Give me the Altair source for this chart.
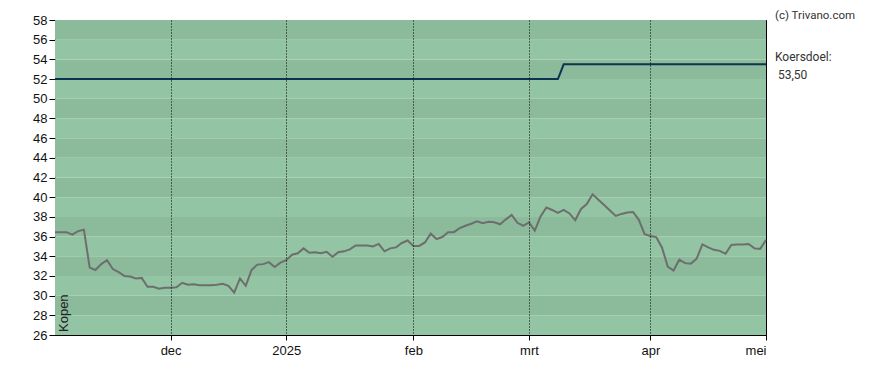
import altair as alt
import pandas as pd

# Closing prices, one per trading day (index 0 = first day shown)
prices = [36.45, 36.45, 36.45, 36.2, 36.55, 36.7, 32.85, 32.6, 33.2, 33.6, 32.7, 32.4, 32.0, 31.95, 31.75, 31.8, 30.9, 30.9, 30.7, 30.8, 30.8,
          30.85, 31.3, 31.1, 31.15, 31.05, 31.05, 31.05, 31.1, 31.2, 31.0, 30.3, 31.75, 31.0, 32.6, 33.15, 33.2, 33.4, 32.9, 33.35, 33.6,
          34.15, 34.3, 34.8, 34.35, 34.4, 34.3, 34.45, 33.95, 34.4, 34.5, 34.7, 35.1, 35.1, 35.1, 35.0, 35.25, 34.5, 34.8, 34.9,
          35.35, 35.6, 35.05, 35.05, 35.4, 36.3, 35.75, 35.95, 36.45, 36.45, 36.85, 37.1, 37.3, 37.55, 37.35, 37.5, 37.45, 37.25, 37.75, 38.2, 37.4, 37.1, 37.45,
          36.6, 38.05, 38.95, 38.7, 38.4, 38.7, 38.35, 37.65, 38.8, 39.3, 40.3, 39.75, 39.2, 38.65, 38.1, 38.3, 38.45, 38.5, 37.7, 36.25, 36.05,
          35.95, 34.9, 32.95, 32.55, 33.65, 33.3, 33.25, 33.75, 35.2, 34.9, 34.65, 34.55, 34.25, 35.15, 35.2, 35.2, 35.25, 34.8, 34.75, 35.65]

# Price target (koersdoel) step line
target_idx = [0, 87, 88, 123]
target_val = [52.0, 52.0, 53.5, 53.5]

# X axis ticks (trading-day index) and labels
tick_idx = [20, 40, 62, 82, 103, 123]
tick_labels = ["dec", "2025", "feb", "mrt", "apr", "mei"]

# Y axis
y_ticks = list(range(26, 59, 2))

# Background bands
band_lo = list(range(26, 58, 2))
band_shade = ["light", "dark"] * 8

texts_right = ["(c) Trivano.com", "Koersdoel:", "53,50"]
signal_text = "Kopen"

W, H = 711, 315

price_df = pd.DataFrame({"i": list(range(len(prices))), "v": prices})
target_df = pd.DataFrame({"i": target_idx, "v": target_val})
band_df = pd.DataFrame({"lo": band_lo, "hi": [b + 2 for b in band_lo], "shade": band_shade})
one_df = pd.DataFrame({"k": [0]})

label_expr = " : ".join(f"datum.value == {i} ? '{l}'" for i, l in zip(tick_idx, tick_labels)) + " : ''"

xscale = alt.Scale(domain=[0, 123], nice=False, zero=False)
yscale = alt.Scale(domain=[26, 58], nice=False, zero=False)
xaxis = alt.Axis(values=tick_idx, labelExpr=label_expr, title=None, grid=True,
                 gridColor="black", gridDash=[1, 2], gridWidth=1, gridOpacity=1,
                 tickSize=5, labelPadding=4, zindex=1, labelFontSize=13)
yaxis = alt.Axis(values=y_ticks, title=None, grid=False, tickSize=6, labelPadding=2,
                 labelFontSize=13)

bands = alt.Chart(band_df).mark_rect().encode(
    y=alt.Y("lo:Q", scale=yscale, axis=yaxis),
    y2="hi:Q",
    x=alt.value(0),
    x2=alt.value("width"),
    color=alt.Color("shade:N", scale=alt.Scale(domain=["dark", "light"], range=["#8bbb9a", "#93c4a3"]), legend=None),
)

target_line = alt.Chart(target_df).mark_line(color="#0d3352", strokeWidth=2).encode(
    x=alt.X("i:Q", scale=xscale, axis=xaxis),
    y=alt.Y("v:Q", scale=yscale, axis=yaxis),
)

price_line = alt.Chart(price_df).mark_line(color="#6e6e6e", strokeWidth=2).encode(
    x=alt.X("i:Q", scale=xscale, axis=xaxis),
    y=alt.Y("v:Q", scale=yscale, axis=yaxis),
)

copyright_t = alt.Chart(one_df).mark_text(text=texts_right[0], align="left", baseline="top",
                                          font="Roboto", fontSize=11.5, color="#333333").encode(
    x=alt.value(720), y=alt.value(-10))
koers_t = alt.Chart(one_df).mark_text(text=texts_right[1], align="left", baseline="middle",
                                      font="Roboto", fontSize=12, color="#333333").encode(
    x=alt.value(720), y=alt.value(37))
val_t = alt.Chart(one_df).mark_text(text=texts_right[2], align="left", baseline="middle",
                                    font="Roboto", fontSize=12, color="#333333").encode(
    x=alt.value(723), y=alt.value(55))
kopen_t = alt.Chart(one_df).mark_text(text=signal_text, align="left", baseline="middle", angle=270,
                                      font="Liberation Sans", fontSize=13, color="#222222").encode(
    x=alt.value(9), y=alt.value(312))

chart = alt.layer(bands, price_line, target_line, copyright_t, koers_t, val_t, kopen_t).properties(
    width=W, height=H,
    padding={"left": 47, "top": 12, "right": 114, "bottom": 35},
    autosize="none",
).configure_view(stroke="black", strokeWidth=1).configure_axis(
    domainColor="black", tickColor="black", labelColor="#111111", labelFont="Liberation Sans"
)

chart.save("out.html", embed_options={"renderer": "svg", "actions": False})
